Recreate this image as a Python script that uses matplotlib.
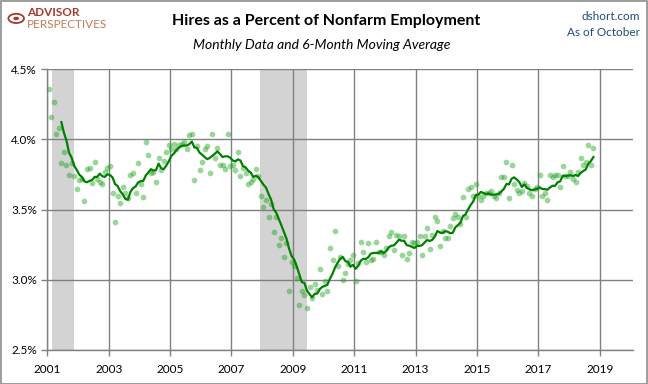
import numpy as np
import pandas as pd
import matplotlib
matplotlib.use("Agg")
import matplotlib.pyplot as plt
from matplotlib.patches import Rectangle, Circle

plt.rcParams['font.family'] = ['Lato', 'DejaVu Sans']

# Hires as % of nonfarm employment, monthly, Jan 2001 - Oct 2018
hires_2001_2004 = [
    4.36, 4.16, 4.27, 4.04, 4.08, 3.83, 3.91, 3.82, 3.75, 3.83, 3.74, 3.65,
    3.71, 3.72, 3.56, 3.79, 3.80, 3.69, 3.84, 3.72, 3.70, 3.68, 3.77, 3.80,
    3.81, 3.62, 3.41, 3.60, 3.55, 3.66, 3.62, 3.58, 3.75, 3.76, 3.62, 3.83,
    3.68, 3.59, 3.98, 3.89, 3.76, 3.77, 3.70, 3.87, 3.78, 3.85, 3.91, 3.96,
]
hires_2005_2008 = [
    3.93, 3.97, 3.93, 3.96, 3.97, 3.98, 3.93, 4.03, 4.04, 3.71, 3.95, 3.78,
    3.84, 3.93, 3.95, 3.76, 4.04, 3.87, 3.94, 3.82, 3.82, 3.79, 4.04, 3.81,
    3.82, 3.78, 3.91, 3.74, 3.80, 3.76, 3.68, 3.70, 3.72, 3.79, 3.74, 3.60,
    3.52, 3.57, 3.45, 3.54, 3.34, 3.45, 3.25, 3.30, 3.16, 3.26, 2.92, 3.13,
]
hires_2009_2012 = [
    3.10, 3.01, 2.82, 2.92, 2.89, 2.80, 2.95, 2.87, 2.97, 2.93, 3.08, 2.90,
    2.99, 2.92, 3.23, 3.14, 3.35, 3.10, 3.16, 3.00, 3.05, 3.11, 3.14, 3.18,
    2.99, 3.12, 3.27, 3.20, 3.13, 3.26, 3.14, 3.15, 3.27, 3.20, 3.20, 3.18,
    3.23, 3.31, 3.34, 3.21, 3.32, 3.31, 3.18, 3.31, 3.15, 3.19, 3.27, 3.26,
]
hires_2013_2016 = [
    3.27, 3.31, 3.18, 3.31, 3.37, 3.22, 3.32, 3.45, 3.42, 3.24, 3.35, 3.30,
    3.30, 3.38, 3.44, 3.47, 3.45, 3.40, 3.59, 3.45, 3.65, 3.66, 3.60, 3.68,
    3.60, 3.57, 3.60, 3.62, 3.62, 3.63, 3.60, 3.58, 3.62, 3.73, 3.73, 3.84,
    3.58, 3.82, 3.68, 3.64, 3.62, 3.63, 3.69, 3.67, 3.62, 3.60, 3.65, 3.66,
]
hires_2017_2018 = [
    3.75, 3.60, 3.62, 3.57, 3.75, 3.73, 3.75, 3.75, 3.66, 3.81, 3.74, 3.74,
    3.77, 3.72, 3.70, 3.77, 3.87, 3.82, 3.84, 3.96, 3.82, 3.94,
]
hires = hires_2001_2004 + hires_2005_2008 + hires_2009_2012 + hires_2013_2016 + hires_2017_2018

start_year = 2001
recession_start = [2001.16, 2007.92]
recession_end = [2001.86, 2009.47]
year_ticks = list(range(2001, 2020, 2))
pct_ticks = [2.5, 3.0, 3.5, 4.0, 4.5]

x = start_year + (np.arange(len(hires)) + 0.5) / 12
ma6 = pd.Series(hires).rolling(6).mean()

fig = plt.figure(figsize=(6.48, 3.84), dpi=100)
ax = fig.add_axes([47.3 / 648, 1 - 350 / 384, (633 - 47.3) / 648, (350 - 69.3) / 384])

for s, e in zip(recession_start, recession_end):
    ax.axvspan(s, e, color='#d3d3d3', lw=0, zorder=0)

ax.scatter(x, hires, s=17, color='#1fa31f', alpha=0.45, lw=0, zorder=3)
ax.plot(x, ma6, color='#008000', lw=1.6, zorder=4)

ax.set_xlim(2001, 2020.08)
ax.set_ylim(2.5, 4.5)
ax.set_xticks(year_ticks)
ax.set_xticklabels([str(y) for y in year_ticks])
ax.set_yticks(pct_ticks)
ax.set_yticklabels(['%.1f%%' % p for p in pct_ticks])
ax.grid(True, color='#808080', lw=1.0, zorder=1)
ax.set_axisbelow(True)
for side in ['top', 'right']:
    ax.spines[side].set_visible(False)
for side in ['left', 'bottom']:
    ax.spines[side].set_color('#808080')
    ax.spines[side].set_linewidth(1.0)
ax.tick_params(axis='both', colors='#808080', length=4, width=1.0, labelsize=8.5,
               labelcolor='black')
ax.tick_params(axis='x', pad=6)

fig.text(0.503, 0.945, 'Hires as a Percent of Nonfarm Employment', ha='center', va='center',
         fontsize=11.5, fontweight='bold')
fig.text(0.497, 0.883, 'Monthly Data and 6-Month Moving Average', ha='center', va='center',
         fontsize=10, style='italic')
fig.text(0.988, 0.958, 'dshort.com', ha='right', va='center', fontsize=8.5, color='#1f497d')
fig.text(0.988, 0.915, 'As of October', ha='right', va='center', fontsize=8.5, color='#1f497d')

# logo
fig.text(0.042, 0.967, 'ADVISOR', ha='left', va='center', fontsize=8.5, fontweight='bold',
         color='#a33a2c')
fig.text(0.042, 0.936, 'PERSPECTIVES', ha='left', va='center', fontsize=8.5,
         color='#c47a5a')
fig.patches.append(Circle((0.025, 0.952), 0.012, transform=fig.transFigure,
                          facecolor='none', edgecolor='#a33a2c', lw=1.3))
fig.patches.append(Circle((0.025, 0.952), 0.0045, transform=fig.transFigure,
                          facecolor='#a33a2c', edgecolor='none'))

fig.patches.append(Rectangle((0.001, 0.001), 0.998, 0.997, transform=fig.transFigure,
                             facecolor='none', edgecolor='#8c8c8c', lw=1.2))

fig.savefig('out.png', dpi=100)
